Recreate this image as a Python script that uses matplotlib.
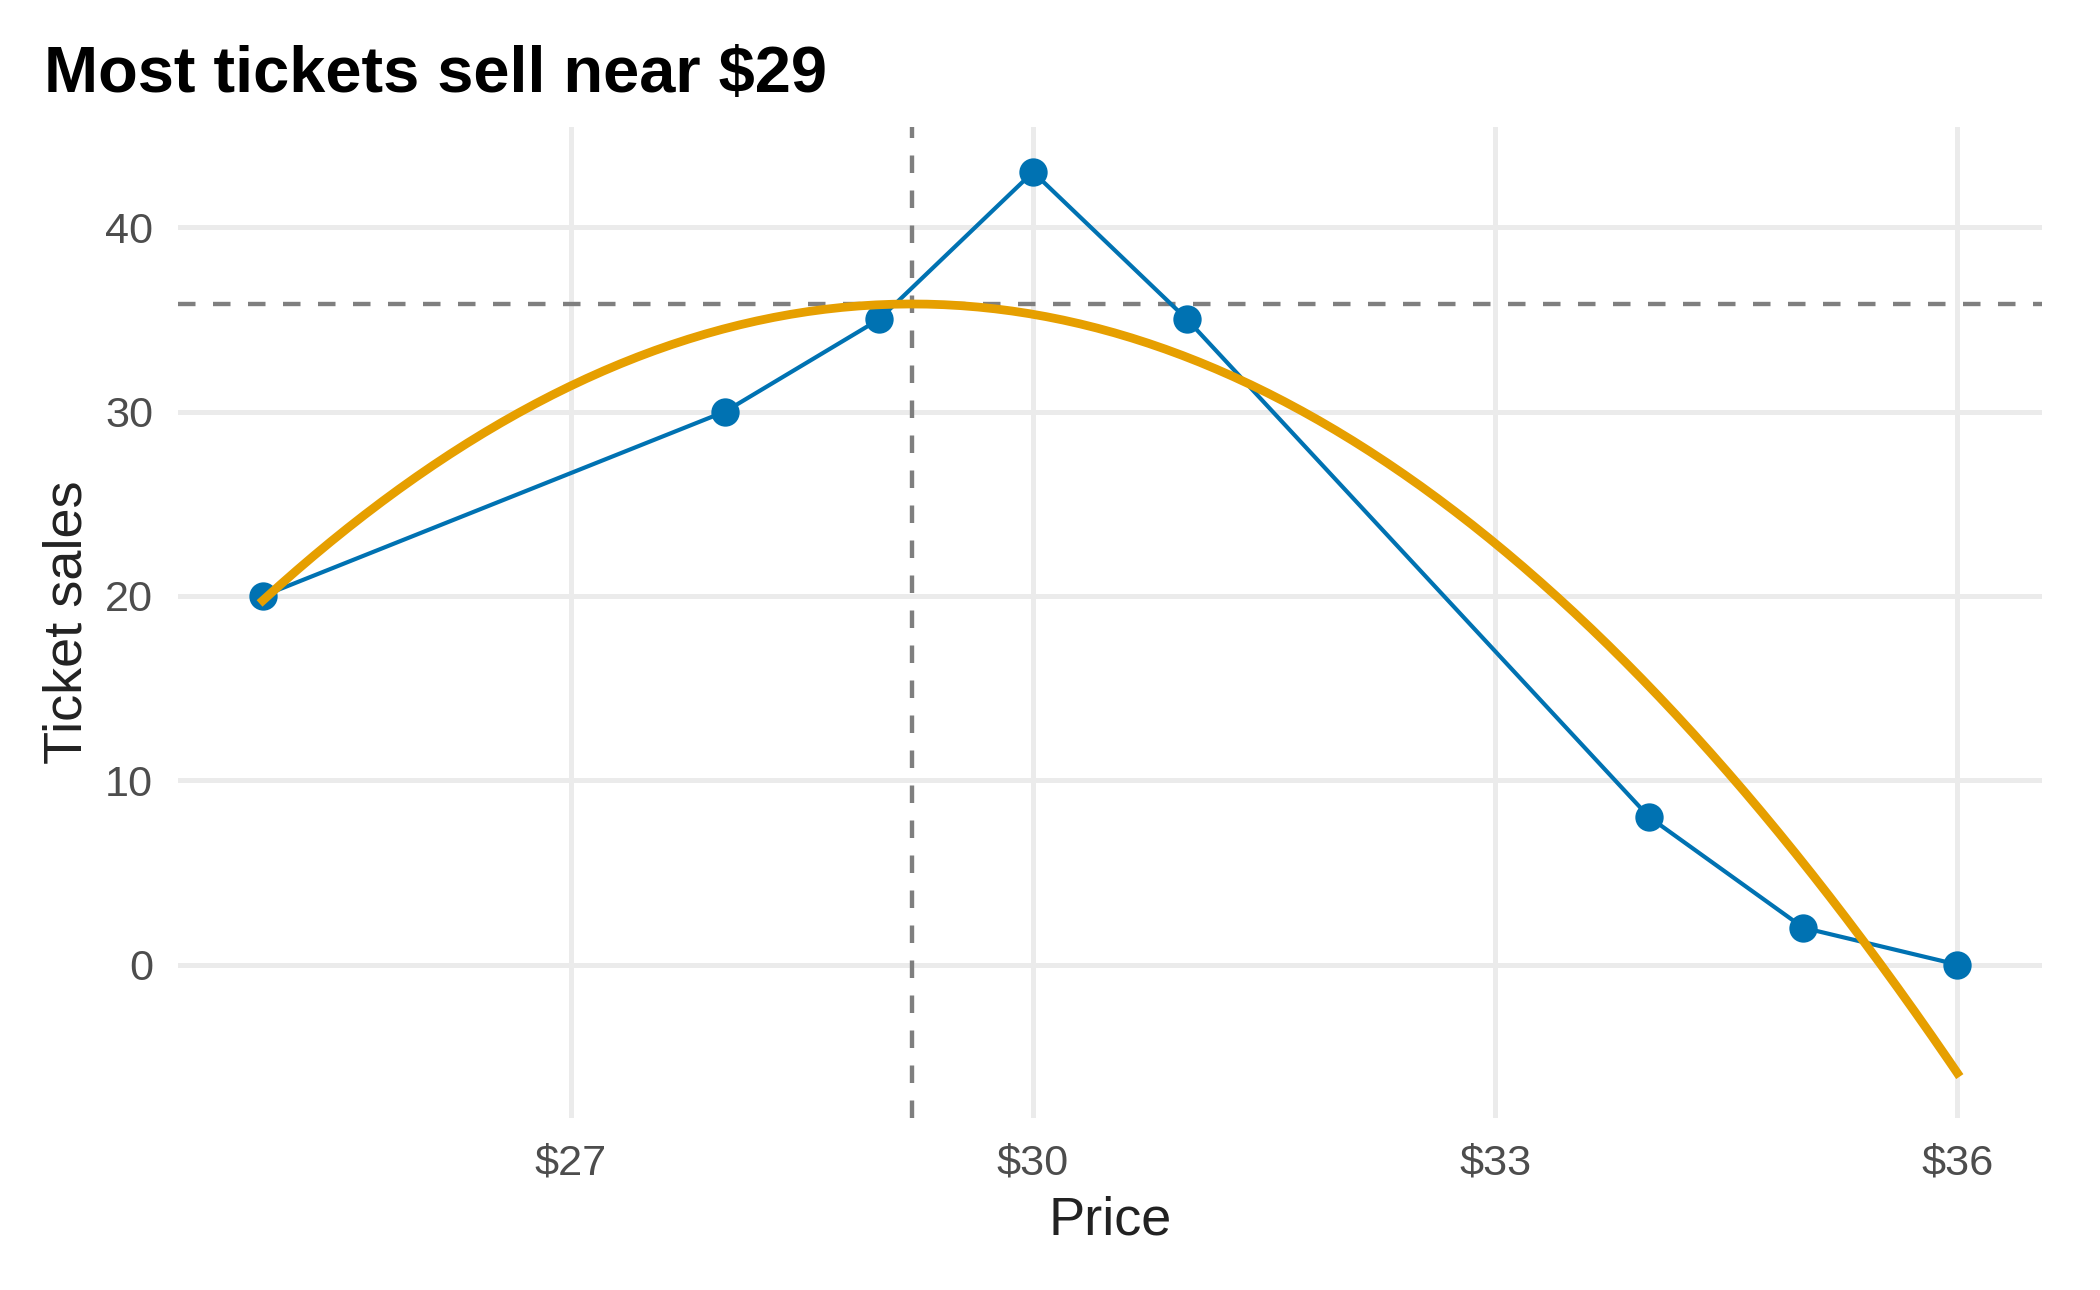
import numpy as np
import matplotlib
matplotlib.use("Agg")
import matplotlib.pyplot as plt

price = [25, 28, 29, 30, 31, 34, 35, 36]
sales = [20, 30, 35, 43, 35, 8, 2, 0]
x_ticks = [27, 30, 33, 36]
x_tick_labels = ["$27", "$30", "$33", "$36"]
y_ticks = [0, 10, 20, 30, 40]
title = "Most tickets sell near $29"

plt.rcParams['font.family'] = ['Liberation Sans', 'DejaVu Sans']

# quadratic fit of the data
coef = np.polyfit(price, sales, 2)
xs = np.linspace(min(price), max(price), 200)
ys = np.polyval(coef, xs)
vx = -coef[1] / (2 * coef[0])
vy = np.polyval(coef, vx)

fig = plt.figure(figsize=(7, 4.3), dpi=300)
ax = fig.add_axes([0.0848, 0.1333, 0.9724 - 0.0848, 0.9016 - 0.1333])

grid_c = "#EBEBEB"
for t in x_ticks:
    ax.axvline(t, color=grid_c, lw=1.2, zorder=0)
for t in y_ticks:
    ax.axhline(t, color=grid_c, lw=1.2, zorder=0)

ax.axvline(vx, color="#7F7F7F", lw=1.05, dashes=(4, 4), zorder=1)
ax.axhline(vy, color="#7F7F7F", lw=1.05, dashes=(4, 4), zorder=1)

ax.plot(price, sales, color="#0072B2", lw=1.0, zorder=2)
ax.plot(price, sales, 'o', color="#0072B2", ms=5.8, zorder=3)
ax.plot(xs, ys, color="#E69F00", lw=2.1, zorder=4)

xmin, xmax = min(price), max(price)
xr = xmax - xmin
ax.set_xlim(xmin - 0.05 * xr, xmax + 0.05 * xr)
ymin = min(min(sales), ys.min())
ymax = max(max(sales), ys.max())
yr = ymax - ymin
ax.set_ylim(ymin - 0.05 * yr, ymax + 0.05 * yr)

ax.set_xticks(x_ticks)
ax.set_xticklabels(x_tick_labels)
ax.set_yticks(y_ticks)
ax.tick_params(length=0, labelsize=10.4, labelcolor="#4D4D4D")
ax.tick_params(axis='x', pad=6)
ax.tick_params(axis='y', pad=6)
for s in ax.spines.values():
    s.set_visible(False)

ax.set_xlabel("Price", fontsize=13, color="#222222", labelpad=3)
ax.set_ylabel("Ticket sales", fontsize=13, color="#222222", labelpad=3)

fig.text(0.021, 0.929, title, fontsize=15.6, fontweight='bold', ha='left', va='baseline')

fig.savefig("out.png", dpi=300)
